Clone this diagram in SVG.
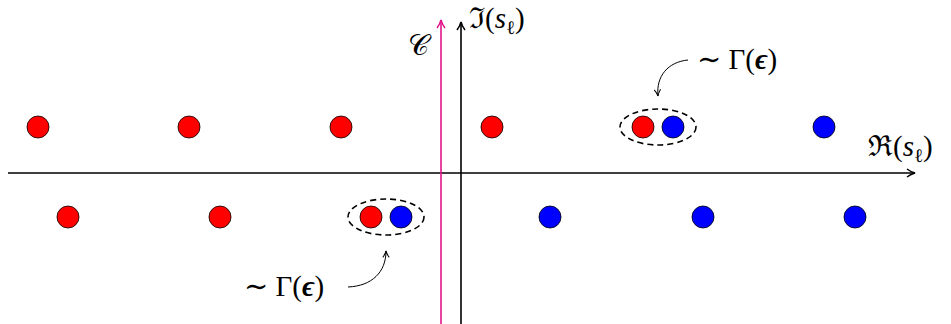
<svg xmlns="http://www.w3.org/2000/svg" width="951" height="324" viewBox="0 0 951 324">
<style>
.r{fill:#ff0000;stroke:#000;stroke-width:0.8}
.b{fill:#0000ff;stroke:#000;stroke-width:0.8}
.ax{stroke:#000;stroke-width:1.6;fill:none}
.el{fill:none;stroke:#000;stroke-width:1.6;stroke-dasharray:6,4}
.t{font-family:"Liberation Serif","DejaVu Serif",serif;font-size:29px;fill:#000}
.cv{fill:none;stroke:#000;stroke-width:1}
.tl{font-family:"DejaVu Serif",serif;font-weight:normal}
</style>
<defs>
<marker id="ah" viewBox="0 0 10 10" refX="9" refY="5" markerWidth="8" markerHeight="8" orient="auto" markerUnits="userSpaceOnUse">
<path d="M1,1 Q5,4 9,5 Q5,6 1,9" fill="none" stroke="#000" stroke-width="1.3"/>
</marker>
<marker id="ap" viewBox="0 0 10 10" refX="9" refY="5" markerWidth="10" markerHeight="10" orient="auto" markerUnits="userSpaceOnUse">
<path d="M1,1 Q5,4 9,5 Q5,6 1,9" fill="none" stroke="#e0148c" stroke-width="1.5"/>
</marker>
<marker id="ak" viewBox="0 0 10 10" refX="9" refY="5" markerWidth="10" markerHeight="10" orient="auto" markerUnits="userSpaceOnUse">
<path d="M1,1 Q5,4 9,5 Q5,6 1,9" fill="none" stroke="#000" stroke-width="1.5"/>
</marker>
</defs>
<g id="connectors">
<line class="ax" x1="8" y1="173" x2="915" y2="173" marker-end="url(#ak)"/>
<line class="ax" x1="461" y1="324" x2="461" y2="22" marker-end="url(#ak)"/>
<line x1="441" y1="324" x2="441" y2="20" stroke="#e0148c" stroke-width="1.6" marker-end="url(#ap)"/>
<path class="cv" d="M688,60 C668,62 656,76 658,96" marker-end="url(#ah)"/>
<path class="cv" d="M348,287 C372,286 386,272 386,251" marker-end="url(#ah)"/>
</g>
<g id="labels">
<text class="t" x="408" y="55" font-size="30">𝒞</text>
<text class="t" x="469" y="28">ℑ(<tspan font-style="italic">s</tspan><tspan font-size="19" dy="6">ℓ</tspan><tspan dy="-6">)</tspan></text>
<text class="t" x="868" y="156">ℜ(<tspan font-style="italic">s</tspan><tspan font-size="19" dy="6">ℓ</tspan><tspan dy="-6">)</tspan></text>
<text class="t" x="697" y="69"><tspan class="tl">∼</tspan> Γ(<tspan font-weight="bold" font-style="italic">ϵ</tspan>)</text>
<text class="t" x="244" y="296"><tspan class="tl">∼</tspan> Γ(<tspan font-weight="bold" font-style="italic">ϵ</tspan>)</text>
</g>
<g id="pair-top">
<ellipse class="el" cx="658" cy="127" rx="38" ry="18"/>
</g>
<g id="pair-bottom">
<ellipse class="el" cx="386" cy="217" rx="38" ry="18"/>
</g>
<g id="poles-top">
<circle class="r" cx="38" cy="127" r="11"/>
<circle class="r" cx="189" cy="127" r="11"/>
<circle class="r" cx="341" cy="127" r="11"/>
<circle class="r" cx="492" cy="127" r="11"/>
<circle class="r" cx="643" cy="127" r="11"/>
<circle class="b" cx="673" cy="127" r="11"/>
<circle class="b" cx="824" cy="127" r="11"/>
</g>
<g id="poles-bottom">
<circle class="r" cx="68" cy="217" r="11"/>
<circle class="r" cx="220" cy="217" r="11"/>
<circle class="r" cx="371" cy="217" r="11"/>
<circle class="b" cx="401" cy="217" r="11"/>
<circle class="b" cx="550" cy="217" r="11"/>
<circle class="b" cx="703" cy="217" r="11"/>
<circle class="b" cx="855" cy="217" r="11"/>
</g>
</svg>
